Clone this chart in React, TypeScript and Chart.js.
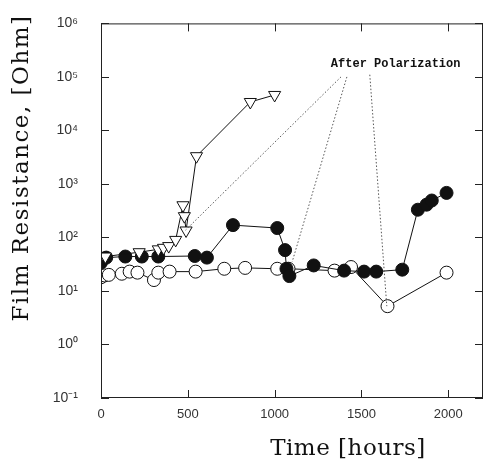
import React, { useEffect, useRef } from "react";
import { Chart, registerables } from "chart.js";

Chart.register(...registerables);

// Open down-triangles
const triHours = [0, 25, 220, 330, 360, 390, 430, 472, 480, 490, 550, 860, 1000];
const triOhm = [45, 44, 53, 60, 64, 69, 90, 400, 250, 135, 3300, 34000, 46000];

// Filled circles
const fillHours = [0, 10, 30, 140, 235, 330, 540, 610, 760, 1015, 1060, 1068, 1085, 1225, 1400, 1515, 1585, 1735, 1825, 1875, 1905, 1990];
const fillOhm = [34, 40, 42, 44, 44, 44, 45, 42, 170, 150, 58, 26, 19, 30, 24, 23, 23, 25, 330, 410, 490, 680];

// Open circles
const openHours = [0, 20, 45, 120, 165, 210, 305, 330, 395, 545, 710, 830, 1015, 1080, 1345, 1440, 1650, 1990];
const openOhm = [18, 19.5, 20, 21, 23, 22, 16, 22, 23, 23, 26, 27, 26, 26, 24, 28, 5.2, 22];

const xTicks = [0, 500, 1000, 1500, 2000];
const yTicks = [0.1, 1, 10, 100, 1000, 10000, 100000, 1000000];
const yTickLabels = ["10⁻¹", "10⁰", "10¹", "10²", "10³", "10⁴", "10⁵", "10⁶"];

const annotationText = "After Polarization";
const annotationPos = { x: 1697, y: 175000 };
const leaderStarts = [
  { x: 1382, y: 100000 },
  { x: 1416, y: 100000 },
  { x: 1548, y: 110000 },
];
const leaderEnds = [
  { x: 487, y: 137 },
  { x: 1101, y: 35 },
  { x: 1646, y: 5.2 },
];

const xTitle = "Time [hours]";
const yTitle = "Film Resistance, [Ohm]";

const toPts = (xs: number[], ys: number[]) => xs.map((x, i) => ({ x, y: ys[i] }));

const framePlugin = {
  id: "frame",
  afterDatasetsDraw(chart: any) {
    const { ctx, chartArea: a, scales } = chart;
    const xs = scales.x;
    const ys = scales.y;
    ctx.save();
    // leader lines
    ctx.strokeStyle = "#555";
    ctx.lineWidth = 1;
    ctx.setLineDash([1.5, 2]);
    leaderStarts.forEach((s, i) => {
      const e = leaderEnds[i];
      ctx.beginPath();
      ctx.moveTo(xs.getPixelForValue(s.x), ys.getPixelForValue(s.y));
      ctx.lineTo(xs.getPixelForValue(e.x), ys.getPixelForValue(e.y));
      ctx.stroke();
    });
    ctx.setLineDash([]);
    // frame
    ctx.strokeStyle = "#222";
    ctx.lineWidth = 1;
    ctx.strokeRect(a.left + 0.5, a.top + 0.5, a.right - a.left - 1, a.bottom - a.top - 1);
    const tl = 8;
    ctx.beginPath();
    xTicks.forEach((v) => {
      const px = Math.round(xs.getPixelForValue(v)) + 0.5;
      ctx.moveTo(px, a.top);
      ctx.lineTo(px, a.top + tl);
      ctx.moveTo(px, a.bottom);
      ctx.lineTo(px, a.bottom - tl);
    });
    yTicks.forEach((v) => {
      const py = Math.round(ys.getPixelForValue(v)) + 0.5;
      ctx.moveTo(a.left, py);
      ctx.lineTo(a.left + tl, py);
      ctx.moveTo(a.right, py);
      ctx.lineTo(a.right - tl, py);
    });
    ctx.stroke();
    // annotation text
    ctx.fillStyle = "#111";
    ctx.font = "bold 12px 'Liberation Mono'";
    ctx.textAlign = "center";
    ctx.textBaseline = "middle";
    ctx.fillText(annotationText, xs.getPixelForValue(annotationPos.x), ys.getPixelForValue(annotationPos.y));
    // axis titles
    ctx.fillStyle = "#111";
    ctx.font = "23px 'DejaVu Serif'";
    (ctx as any).letterSpacing = "0.5px";
    ctx.fillText(xTitle, 348, 449);
    ctx.translate(22, 168);
    ctx.rotate(-Math.PI / 2);
    (ctx as any).letterSpacing = "1.5px";
    ctx.fillText(yTitle, 0, 0);
    ctx.restore();
  },
};

export default function App() {
  const ref = useRef<HTMLCanvasElement | null>(null);
  useEffect(() => {
    if (!ref.current) return;
    const line = { borderColor: "#111", borderWidth: 1, tension: 0, showLine: true };
    const chart = new Chart(ref.current, {
      type: "scatter",
      data: {
        datasets: [
          {
            ...line,
            data: toPts(triHours, triOhm),
            pointStyle: "triangle",
            rotation: 180,
            pointRadius: 7,
            pointBackgroundColor: "#fff",
            pointBorderColor: "#111",
            pointBorderWidth: 1,
          },
          {
            ...line,
            data: toPts(fillHours, fillOhm),
            pointStyle: "circle",
            pointRadius: 6.5,
            pointBackgroundColor: "#111",
            pointBorderColor: "#111",
            pointBorderWidth: 1,
          },
          {
            ...line,
            data: toPts(openHours, openOhm),
            pointStyle: "circle",
            pointRadius: 6.5,
            pointBackgroundColor: "#fff",
            pointBorderColor: "#111",
            pointBorderWidth: 1,
          },
        ],
      },
      options: {
        animation: false,
        responsive: false,
        layout: { autoPadding: false, padding: { top: 8, right: 0, left: 0, bottom: 0 } },
        plugins: { legend: { display: false }, tooltip: { enabled: false } },
        scales: {
          x: {
            type: "linear",
            min: 0,
            max: 2200,
            grid: { display: false },
            border: { display: false },
            afterBuildTicks: (s: any) => {
              s.ticks = xTicks.map((v) => ({ value: v }));
            },
            afterFit: (s: any) => {
              s.height = 61;
            },
            ticks: {
              padding: 1,
              color: "#333",
              font: { family: "'Liberation Sans'", size: 13 },
              callback: (v: any) => String(v),
            },
          },
          y: {
            type: "logarithmic",
            min: 0.1,
            max: 1000000,
            grid: { display: false },
            border: { display: false },
            afterBuildTicks: (s: any) => {
              s.ticks = yTicks.map((v) => ({ value: v }));
            },
            afterFit: (s: any) => {
              s.width = 101;
            },
            ticks: {
              padding: 15,
              color: "#333",
              font: { family: "'Liberation Sans'", size: 14 },
              callback: (v: any) => {
                const i = yTicks.findIndex((t) => Math.abs(Math.log10(t) - Math.log10(v)) < 1e-6);
                return i >= 0 ? yTickLabels[i] : "";
              },
            },
          },
        },
      },
      plugins: [framePlugin],
    });
    return () => chart.destroy();
  }, []);
  return (
    <div style={{ position: "fixed", left: 0, top: 0, width: 483, height: 459, background: "#fff" }}>
      <canvas ref={ref} width={483} height={459} style={{ width: 483, height: 459 }} />
    </div>
  );
}
